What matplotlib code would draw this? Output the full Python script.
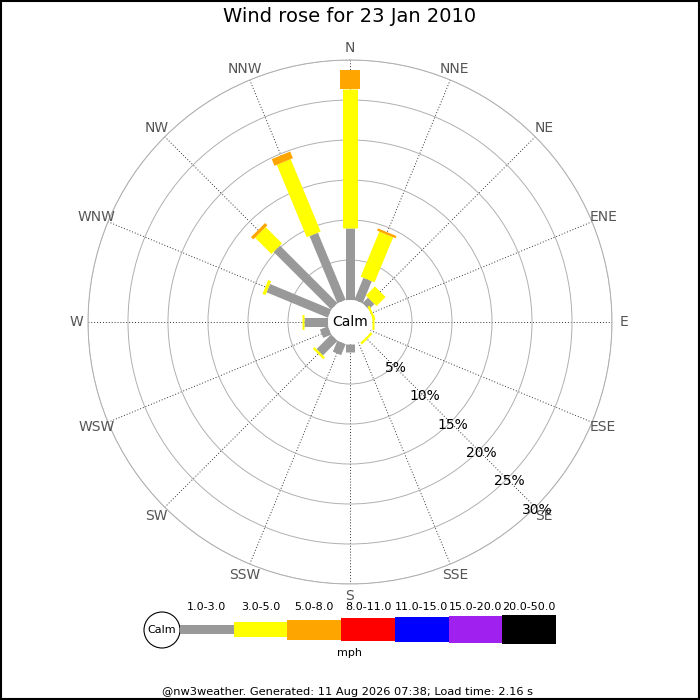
import numpy as np
import matplotlib
matplotlib.use("Agg")
import matplotlib.pyplot as plt
from matplotlib.patches import Circle, Rectangle

# ---- data ----
directions = ['N', 'NNE', 'NE', 'ENE', 'E', 'ESE', 'SE', 'SSE',
              'S', 'SSW', 'SW', 'WSW', 'W', 'WNW', 'NW', 'NNW']
speed_1_3 = [9.0, 3.0, 1.0, 0.0, 0.0, 0.0, 0.0, 0.0,
             1.0, 1.5, 2.6, 1.1, 3.0, 8.3, 10.2, 9.1]
speed_3_5 = [17.4, 6.1, 1.6, 0.3, 0.3, 0.0, 0.3, 0.0,
             0.0, 0.0, 0.3, 0.0, 0.2, 0.4, 2.9, 9.8]
speed_5_8 = [2.4, 0.3, 0.0, 0.0, 0.0, 0.0, 0.0, 0.0,
             0.0, 0.0, 0.0, 0.0, 0.0, 0.0, 0.4, 0.9]
band_labels = ['1.0-3.0', '3.0-5.0', '5.0-8.0', '8.0-11.0',
               '11.0-15.0', '15.0-20.0', '20.0-50.0']
band_colors = ['#999999', '#ffff00', '#ffa500', '#ff0000',
               '#0000ff', '#a020f0', '#000000']
ring_ticks = [5, 10, 15, 20, 25, 30]
title = 'Wind rose for 23 Jan 2010'
footer = '@nw3weather. Generated: 11 Aug 2026 07:38; Load time: 2.16 s'

# ---- figure ----
W = H = 700
fig = plt.figure(figsize=(7, 7), dpi=100)
fig.patch.set_facecolor('white')

cx, cy, R = 350, 322, 262
ax = fig.add_axes([(cx - R) / W, (H - cy - R) / H, 2 * R / W, 2 * R / H],
                  projection='polar')
ax.set_theta_zero_location('N')
ax.set_theta_direction(-1)
rmax = ring_ticks[-1]
calm_px = 22
r_origin = -calm_px * rmax / (R - calm_px)
ax.set_rorigin(r_origin)
ax.set_ylim(0, rmax)
ax.set_facecolor('white')

theta = np.deg2rad(np.arange(len(directions)) * 22.5)
ax.set_xticks(theta)
ax.set_xticklabels([])
ax.set_yticks(ring_ticks)
ax.set_yticklabels([])
ax.xaxis.grid(True, color='#333333', linestyle=(0, (1, 2)), linewidth=0.7)
ax.yaxis.grid(True, color='#b0b0b0', linestyle='-', linewidth=0.7)
ax.spines['polar'].set_color('#b0b0b0')
ax.spines['polar'].set_linewidth(0.7)
ax.spines['inner'].set_edgecolor('none')
ax.spines['inner'].set_linewidth(0)
ax.tick_params(length=0)

# stacked bars drawn as thick lines of constant pixel width
px2pt = 72 / 100
widths = [9, 15, 20]
bottom = np.zeros(len(directions))
for vals, col, w in zip([speed_1_3, speed_3_5, speed_5_8], band_colors[:3], widths):
    vals = np.array(vals)
    for th, b, v in zip(theta, bottom, vals):
        if v > 0:
            ax.plot([th, th], [b, b + v], color=col, lw=w * px2pt,
                    solid_capstyle='butt', zorder=3)
    bottom = bottom + vals

# direction labels
for th, name in zip(theta, directions):
    ax.text(th, 31.5, name, ha='center', va='center', fontsize=10,
            color='#555555', clip_on=False)

# radial labels
for t in ring_ticks:
    ax.text(np.deg2rad(135), t + 0.4, f'{t}%', ha='center', va='center',
            fontsize=10, color='black', zorder=5)

# calm circle
ax.add_patch(Circle((0.5, 0.5), calm_px / (2 * R), transform=ax.transAxes,
                    facecolor='white', edgecolor='none', zorder=4))
ax.text(0.5, 0.5, 'Calm', transform=ax.transAxes, ha='center', va='center',
        fontsize=10, zorder=5)

# overlay axes in pixel coordinates for title/legend/footer
ov = fig.add_axes([0, 0, 1, 1])
ov.set_xlim(0, W)
ov.set_ylim(H, 0)
ov.axis('off')
ov.patch.set_alpha(0)

ov.text(350, 17, title, ha='center', va='center', fontsize=14)

# legend
ov.add_patch(Circle((162, 630), 18, facecolor='white', edgecolor='black', lw=0.8))
ov.text(162, 630, 'Calm', ha='center', va='center', fontsize=8)
heights = [8.5, 15, 20, 23, 25, 27, 28.5]
x0, seg = 180, 53.7
for i, (lab, col, h) in enumerate(zip(band_labels, band_colors, heights)):
    xs = x0 + i * seg
    ov.add_patch(Rectangle((xs, 629.5 - h / 2), seg, h, facecolor=col,
                           edgecolor='none'))
    ov.text(xs + seg / 2, 607, lab, ha='center', va='center', fontsize=8)
ov.text(350, 653, 'mph', ha='center', va='center', fontsize=8)

ov.text(348, 692, footer, ha='center', va='center', fontsize=8.2)

# black border
ov.add_patch(Rectangle((0.5, 0.5), W - 1.5, H - 1.5, facecolor='none',
                       edgecolor='black', lw=1.5))

fig.savefig('out.png', dpi=100)
